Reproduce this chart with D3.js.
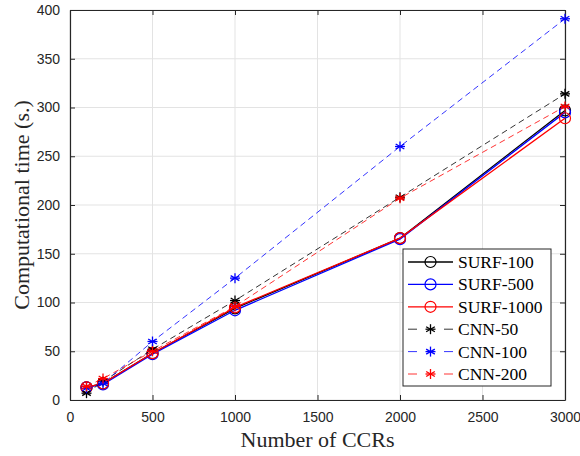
<!DOCTYPE html>
<html>
<head>
<meta charset="utf-8">
<script src="https://cdn.jsdelivr.net/npm/d3@7"></script>
<style>
body { margin: 0; background: #fff; }
</style>
</head>
<body>
<div id="chart-area"></div>
<script>
// data
var ccrs = [100, 200, 500, 1000, 2000, 3000];
var surf100 = [13, 17, 48, 94, 166, 297];
var surf500 = [13, 16, 47, 92, 165, 295];
var surf1000 = [13, 17, 48, 95, 166, 289];
var cnn50 = [7, 19, 52, 102, 208, 314];
var cnn100 = [12, 17, 60, 125, 260, 391];
var cnn200 = [14, 22, 50, 96, 207, 301];
var xTicks = [0, 500, 1000, 1500, 2000, 2500, 3000];
var yTicks = [0, 50, 100, 150, 200, 250, 300, 350, 400];

var series = [
    {name: 'SURF-100', vals: surf100, color: '#000', dash: null, mark: 'circle'},
    {name: 'SURF-500', vals: surf500, color: '#0000ff', dash: null, mark: 'circle'},
    {name: 'SURF-1000', vals: surf1000, color: '#ff0000', dash: null, mark: 'circle'},
    {name: 'CNN-50', vals: cnn50, color: '#000', dash: '6,4', mark: 'star'},
    {name: 'CNN-100', vals: cnn100, color: '#0000ff', dash: '6,4', mark: 'star'},
    {name: 'CNN-200', vals: cnn200, color: '#ff0000', dash: '6,4', mark: 'star'}
];

var def = {width: 580, height: 456, left: 70, top: 10, right: 565, bottom: 400};
var axCol = '#262626';

var svg = d3.select('#chart-area').append('svg')
    .attr('width', def.width)
    .attr('height', def.height);

var x = d3.scaleLinear().domain([0, 3000]).range([def.left, def.right]);
var y = d3.scaleLinear().domain([0, 400]).range([def.bottom, def.top]);

// grid
svg.append('g').selectAll('line').data(xTicks).enter().append('line')
    .attr('x1', d => x(d)).attr('x2', d => x(d))
    .attr('y1', def.top).attr('y2', def.bottom)
    .attr('stroke', '#e3e3e3').attr('stroke-width', 1);
svg.append('g').selectAll('line').data(yTicks).enter().append('line')
    .attr('x1', def.left).attr('x2', def.right)
    .attr('y1', d => y(d)).attr('y2', d => y(d))
    .attr('stroke', '#e3e3e3').attr('stroke-width', 1);

// axes (ticks pointing inward, box on all sides)
function styleAxis(g) {
    g.selectAll('path').attr('stroke', axCol).attr('stroke-width', 1.2);
    g.selectAll('line').attr('stroke', axCol);
    g.selectAll('text').attr('fill', axCol)
        .attr('font-family', 'Arial, Liberation Sans, sans-serif')
        .attr('font-size', '14px');
}
svg.append('g').attr('transform', 'translate(0,' + def.bottom + ')')
    .call(d3.axisBottom(x).tickValues(xTicks).tickFormat(d3.format('d')).tickSizeInner(-5).tickSizeOuter(0).tickPadding(12))
    .call(styleAxis);
svg.append('g').attr('transform', 'translate(' + def.left + ',0)')
    .call(d3.axisLeft(y).tickValues(yTicks).tickFormat(d3.format('d')).tickSizeInner(-5).tickSizeOuter(0).tickPadding(10))
    .call(styleAxis);
svg.append('g').attr('transform', 'translate(0,' + def.top + ')')
    .call(d3.axisTop(x).tickValues(xTicks).tickSizeInner(-5).tickSizeOuter(0).tickFormat(''))
    .call(styleAxis);
svg.append('g').attr('transform', 'translate(' + def.right + ',0)')
    .call(d3.axisRight(y).tickValues(yTicks).tickSizeInner(-5).tickSizeOuter(0).tickFormat(''))
    .call(styleAxis);

// labels
svg.append('text')
    .attr('x', (def.left + def.right) / 2).attr('y', 447)
    .attr('text-anchor', 'middle')
    .attr('font-family', 'Liberation Serif, Times New Roman, serif')
    .attr('font-size', '22px').attr('fill', axCol)
    .text('Number of CCRs');
svg.append('text')
    .attr('transform', 'rotate(-90)')
    .attr('x', -(def.top + def.bottom) / 2).attr('y', 29)
    .attr('text-anchor', 'middle')
    .attr('font-family', 'Liberation Serif, Times New Roman, serif')
    .attr('font-size', '22px').attr('fill', axCol)
    .text('Computational time (s.)');

var line = d3.line().x(d => x(d[0])).y(d => y(d[1]));

function drawMark(g, kind, cx, cy, color) {
    if (kind === 'circle') {
        g.append('circle').attr('cx', cx).attr('cy', cy).attr('r', 5.5)
            .attr('fill', 'none').attr('stroke', color).attr('stroke-width', 1.2);
    } else {
        var r = 5;
        [0, 60, 120].forEach(a => {
            var rad = a * Math.PI / 180;
            g.append('line')
                .attr('x1', cx - r * Math.sin(rad)).attr('y1', cy - r * Math.cos(rad))
                .attr('x2', cx + r * Math.sin(rad)).attr('y2', cy + r * Math.cos(rad))
                .attr('stroke', color).attr('stroke-width', 1.3);
        });
        g.append('line').attr('x1', cx - r).attr('x2', cx + r)
            .attr('y1', cy).attr('y2', cy)
            .attr('stroke', color).attr('stroke-width', 1.3);
    }
}

var plot = svg.append('g');
series.forEach(s => {
    var pts = ccrs.map((c, i) => [c, s.vals[i]]);
    plot.append('path').datum(pts)
        .attr('d', line)
        .attr('fill', 'none')
        .attr('stroke', s.color)
        .attr('stroke-width', s.dash ? 0.8 : 1.3)
        .attr('stroke-dasharray', s.dash);
    pts.forEach(p => drawMark(plot, s.mark, x(p[0]), y(p[1]), s.color));
});

// legend
var leg = svg.append('g').attr('transform', 'translate(403,249)');
leg.append('rect').attr('width', 148).attr('height', 137)
    .attr('fill', '#fff').attr('stroke', '#262626').attr('stroke-width', 1);
series.forEach((s, i) => {
    var ly = 13 + i * 22.4;
    leg.append('line').attr('x1', 5).attr('x2', 50).attr('y1', ly).attr('y2', ly)
        .attr('stroke', s.color).attr('stroke-width', s.dash ? 0.8 : 1.3)
        .attr('stroke-dasharray', s.dash ? '9,27' : null);
    drawMark(leg, s.mark, 27.5, ly, s.color);
    leg.append('text').attr('x', 55).attr('y', ly + 6)
        .attr('font-family', 'Liberation Serif, Times New Roman, serif')
        .attr('font-size', '17.5px').attr('fill', '#000')
        .text(s.name);
});
</script>
</body>
</html>
